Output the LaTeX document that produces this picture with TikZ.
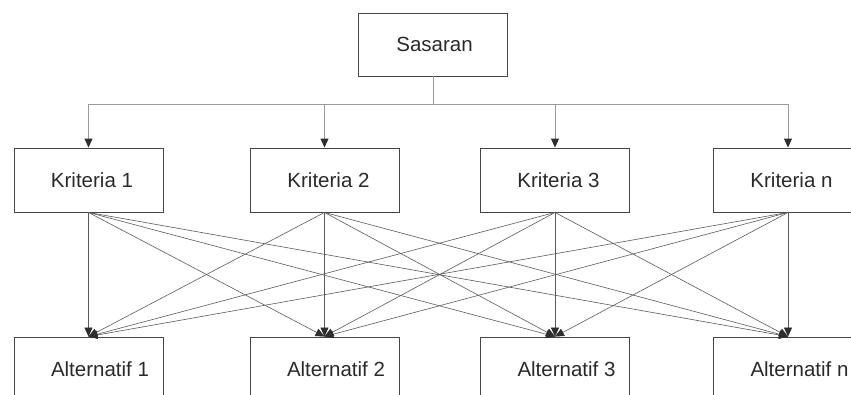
\documentclass[tikz,border=0pt]{standalone}
\usepackage{fontspec}
\setmainfont{Liberation Sans}
\usetikzlibrary{arrows.meta}
\definecolor{boxline}{HTML}{454545}
\definecolor{textcol}{HTML}{2A2A2A}
\definecolor{buscol}{HTML}{9A9A9A}
\definecolor{linkcol}{HTML}{5A5A5A}
\definecolor{tipcol}{HTML}{2E2E2E}
\begin{document}
\begin{tikzpicture}[x=1pt,y=-1pt,
  box/.style={draw=boxline, line width=0.9pt, minimum width=149pt,
    minimum height=64pt, inner sep=0pt, text=textcol,
    font=\fontsize{20.5}{24}\selectfont},
  feed/.style={draw=buscol, line width=0.9pt,
    -{Triangle[length=9pt,width=8pt,color=tipcol,fill=tipcol]}},
  link/.style={draw=linkcol, line width=0.6pt,
    -{Triangle[length=9pt,width=8pt,color=tipcol,fill=tipcol]}}
]
\useasboundingbox (0,0) rectangle (851,394);
\clip (0,0) rectangle (851,394);

% goal
\node[box, minimum height=63pt] (goal) at (433,44.5) {\hspace*{3pt}Sasaran};

% criteria
\node[box] (k1) at (88.5,180) {\hspace*{7pt}Kriteria 1};
\node[box] (k2) at (324.5,180) {\hspace*{8pt}Kriteria 2};
\node[box] (k3) at (555,180) {\hspace*{7pt}Kriteria 3};
\node[box] (k4) at (788,180) {\hspace*{7pt}Kriteria n};

% alternatives
\node[box] (a1) at (88.5,369) {\hspace*{23pt}Alternatif 1};
\node[box] (a2) at (324.5,369) {\hspace*{23pt}Alternatif 2};
\node[box] (a3) at (555,369) {\hspace*{23pt}Alternatif 3};
\node[box] (a4) at (788,369) {\hspace*{23pt}Alternatif n};

% distribution bus from the goal to every criterion
\coordinate (bus) at (433,104);
\draw[draw=buscol, line width=0.9pt] (goal.south) -- (bus);
\foreach \k in {1,...,4}
  \draw[feed] (bus) -| (k\k.north);

% every criterion feeds every alternative
\foreach \i in {1,...,4}
  \foreach \j in {1,...,4}
    \draw[link] (k\i.south) -- (a\j.north);
\end{tikzpicture}
\end{document}
